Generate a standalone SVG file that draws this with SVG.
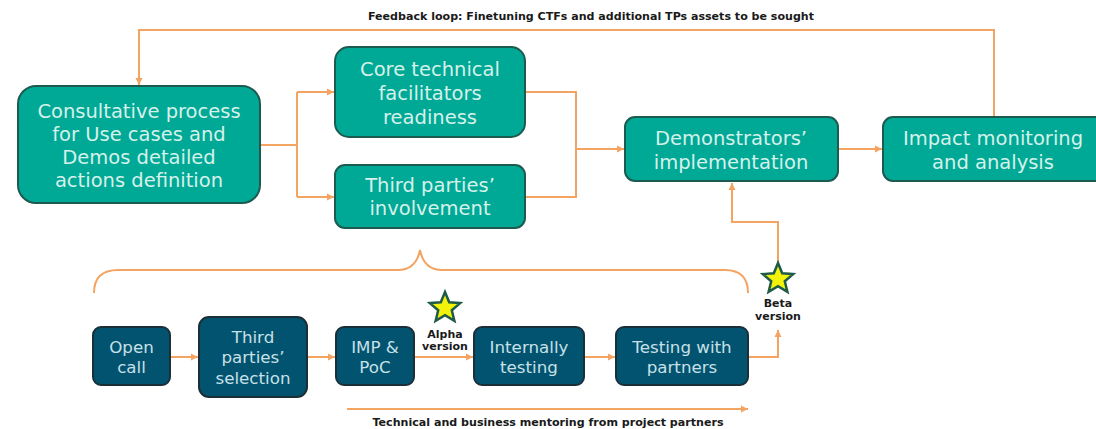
<svg xmlns="http://www.w3.org/2000/svg" xmlns:xlink="http://www.w3.org/1999/xlink" width="1096" height="429" viewBox="0 0 1096 429">
<style>
.teal{fill:#00a996;stroke:#1d5a50;stroke-width:2}
.blue{fill:#02536f;stroke:#1b2f38;stroke-width:2}
.tt{font-family:"DejaVu Sans",Verdana,sans-serif;font-size:19.5px;fill:#d6f1ea;text-anchor:middle}
.bt{font-family:"DejaVu Sans",Verdana,sans-serif;font-size:16.7px;fill:#c8e0e8;text-anchor:middle}
.lbl{font-family:"DejaVu Sans",Verdana,sans-serif;font-weight:bold;font-size:10.8px;fill:#1a1a1a;text-anchor:middle}
.sl{font-size:11px}
.ln{fill:none;stroke:#f4a462;stroke-width:2}
.star{fill:#f2f20a;stroke:#1e5b48;stroke-width:2.5;stroke-linejoin:miter}
</style>
<defs>
<marker id="ah" markerUnits="userSpaceOnUse" markerWidth="8" markerHeight="8" refX="7" refY="4" orient="auto">
<path d="M0,0.5 L7,4 L0,7.5 Z" fill="#f4a462"/>
</marker>
<polygon id="star" class="star" points="0,-16 4.2,-5.8 15.2,-4.9 6.8,2.2 9.4,12.9 0,7.2 -9.4,12.9 -6.8,2.2 -15.2,-4.9 -4.2,-5.8"/>
</defs>
<text class="lbl" x="591" y="20" textLength="446" lengthAdjust="spacingAndGlyphs">Feedback loop: Finetuning CTFs and additional TPs assets to be sought</text>
<g id="connectors">
<path class="ln" d="M994,117 V30 H139 V85" marker-end="url(#ah)"/>
<path class="ln" d="M260,145 H297"/>
<path class="ln" d="M297,92 V197"/>
<path class="ln" d="M297,92 H334" marker-end="url(#ah)"/>
<path class="ln" d="M297,197 H334" marker-end="url(#ah)"/>
<path class="ln" d="M525,92 H576 V197 H525"/>
<path class="ln" d="M576,149 H624" marker-end="url(#ah)"/>
<path class="ln" d="M838,149 H882" marker-end="url(#ah)"/>
<path class="ln" d="M778,266 V222 H732 V183" marker-end="url(#ah)"/>
<path class="ln" d="M170,357 H198" marker-end="url(#ah)"/>
<path class="ln" d="M307,357 H335" marker-end="url(#ah)"/>
<path class="ln" d="M414,357 H473" marker-end="url(#ah)"/>
<path class="ln" d="M584,357 H615" marker-end="url(#ah)"/>
<path class="ln" d="M748,357 H778 V330" marker-end="url(#ah)"/>
<path class="ln" d="M347,409 H748" marker-end="url(#ah)"/>
<path class="ln" d="M94,293 Q94,270 118,270 L398,270 Q416,270 420,250 Q424,270 442,270 L725,270 Q748,270 748,293"/>
</g>
<g id="consultative">
<rect class="teal" x="18" y="86" width="242" height="117" rx="18"/>
<text class="tt" x="139" y="118">Consultative process</text>
<text class="tt" x="139" y="141">for Use cases and</text>
<text class="tt" x="139" y="164">Demos detailed</text>
<text class="tt" x="139" y="187">actions definition</text>
</g>
<g id="core">
<rect class="teal" x="335" y="47" width="190" height="90" rx="14"/>
<text class="tt" x="430" y="76">Core technical</text>
<text class="tt" x="430" y="100">facilitators</text>
<text class="tt" x="430" y="124">readiness</text>
</g>
<g id="thirdparties">
<rect class="teal" x="335" y="165" width="190" height="63" rx="10"/>
<text class="tt" x="430" y="192">Third parties’</text>
<text class="tt" x="430" y="215">involvement</text>
</g>
<g id="demonstrators">
<rect class="teal" x="625" y="117" width="213" height="64" rx="10"/>
<text class="tt" x="731" y="145">Demonstrators’</text>
<text class="tt" x="731" y="169">implementation</text>
</g>
<g id="impact">
<rect class="teal" x="883" y="117" width="222" height="64" rx="10"/>
<text class="tt" x="993" y="145">Impact monitoring</text>
<text class="tt" x="993" y="169">and analysis</text>
</g>
<g id="opencall">
<rect class="blue" x="93" y="327" width="77" height="58" rx="8"/>
<text class="bt" x="131.5" y="353">Open</text>
<text class="bt" x="131.5" y="373">call</text>
</g>
<g id="selection">
<rect class="blue" x="199" y="317" width="108" height="80" rx="10"/>
<text class="bt" x="253" y="343">Third</text>
<text class="bt" x="253" y="363">parties’</text>
<text class="bt" x="253" y="384">selection</text>
</g>
<g id="imppoc">
<rect class="blue" x="336" y="327" width="78" height="58" rx="8"/>
<text class="bt" x="375" y="353">IMP &amp;</text>
<text class="bt" x="375" y="373">PoC</text>
</g>
<g id="internally">
<rect class="blue" x="474" y="327" width="110" height="58" rx="8"/>
<text class="bt" x="529" y="353">Internally</text>
<text class="bt" x="529" y="373">testing</text>
</g>
<g id="testing">
<rect class="blue" x="616" y="327" width="132" height="58" rx="8"/>
<text class="bt" x="682" y="353">Testing with</text>
<text class="bt" x="682" y="373">partners</text>
</g>
<g id="alpha">
<use xlink:href="#star" x="445" y="308"/>
<text class="lbl sl" x="445" y="338">Alpha</text>
<text class="lbl sl" x="445" y="350">version</text>
</g>
<g id="beta">
<use xlink:href="#star" x="778" y="279"/>
<text class="lbl sl" x="778" y="307">Beta</text>
<text class="lbl sl" x="778" y="320">version</text>
</g>
<text class="lbl" x="548" y="426" textLength="351" lengthAdjust="spacingAndGlyphs">Technical and business mentoring from project partners</text>
</svg>
